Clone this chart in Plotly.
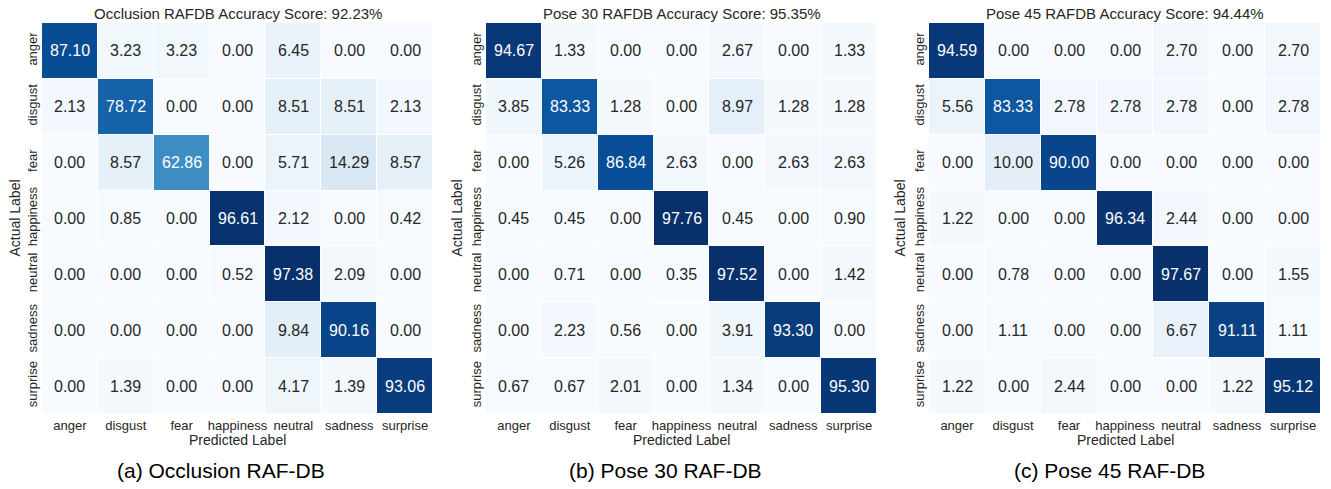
import numpy as np
import plotly.graph_objects as go

labels = ["anger", "disgust", "fear", "happiness", "neutral", "sadness", "surprise"]

occlusion = [
    [87.10, 3.23, 3.23, 0.00, 6.45, 0.00, 0.00],
    [2.13, 78.72, 0.00, 0.00, 8.51, 8.51, 2.13],
    [0.00, 8.57, 62.86, 0.00, 5.71, 14.29, 8.57],
    [0.00, 0.85, 0.00, 96.61, 2.12, 0.00, 0.42],
    [0.00, 0.00, 0.00, 0.52, 97.38, 2.09, 0.00],
    [0.00, 0.00, 0.00, 0.00, 9.84, 90.16, 0.00],
    [0.00, 1.39, 0.00, 0.00, 4.17, 1.39, 93.06],
]
pose30 = [
    [94.67, 1.33, 0.00, 0.00, 2.67, 0.00, 1.33],
    [3.85, 83.33, 1.28, 0.00, 8.97, 1.28, 1.28],
    [0.00, 5.26, 86.84, 2.63, 0.00, 2.63, 2.63],
    [0.45, 0.45, 0.00, 97.76, 0.45, 0.00, 0.90],
    [0.00, 0.71, 0.00, 0.35, 97.52, 0.00, 1.42],
    [0.00, 2.23, 0.56, 0.00, 3.91, 93.30, 0.00],
    [0.67, 0.67, 2.01, 0.00, 1.34, 0.00, 95.30],
]
pose45 = [
    [94.59, 0.00, 0.00, 0.00, 2.70, 0.00, 2.70],
    [5.56, 83.33, 2.78, 2.78, 2.78, 0.00, 2.78],
    [0.00, 10.00, 90.00, 0.00, 0.00, 0.00, 0.00],
    [1.22, 0.00, 0.00, 96.34, 2.44, 0.00, 0.00],
    [0.00, 0.78, 0.00, 0.00, 97.67, 0.00, 1.55],
    [0.00, 1.11, 0.00, 0.00, 6.67, 91.11, 1.11],
    [1.22, 0.00, 2.44, 0.00, 0.00, 1.22, 95.12],
]

titles = [
    "Occlusion RAFDB Accuracy Score: 92.23%",
    "Pose 30 RAFDB Accuracy Score: 95.35%",
    "Pose 45 RAFDB Accuracy Score: 94.44%",
]
captions = ["(a) Occlusion RAF-DB", "(b) Pose 30 RAF-DB", "(c) Pose 45 RAF-DB"]
matrices = [occlusion, pose30, pose45]

# matplotlib "Blues" stops
blues_hex = ["#f7fbff", "#deebf7", "#c6dbef", "#9ecae1", "#6baed6",
             "#4292c6", "#2171b5", "#08519c", "#08306b"]
blues_rgb = np.array([[int(h[i:i + 2], 16) for i in (1, 3, 5)] for h in blues_hex], float)
stops = np.linspace(0, 1, len(blues_hex))
colorscale = [[float(s), h] for s, h in zip(stops, blues_hex)]


def cmap(t):
    return np.array([np.interp(t, stops, blues_rgb[:, k]) for k in range(3)]) / 255.0


def rel_lum(rgb):
    c = np.where(rgb <= 0.03928, rgb / 12.92, ((rgb + 0.055) / 1.055) ** 2.4)
    return 0.2126 * c[0] + 0.7152 * c[1] + 0.0722 * c[2]


W, H = 1331, 489
x_px = [(42, 433), (486, 877), (929, 1321)]
y_top, y_bot = 23, 414
ylab_x = [15, 457, 900]
cap_x = [221, 665, 1109]
font = "Liberation Sans, Arial, sans-serif"
dark = "#262626"


def txt(x, y, text, size, color=dark, angle=0):
    return dict(x=x / W, y=1 - y / H, xref="paper", yref="paper", text=text,
                xanchor="center", yanchor="middle", textangle=angle, showarrow=False,
                font=dict(size=size, color=color, family=font))


fig = go.Figure()
annotations = []
for i, (mat, (x0, x1)) in enumerate(zip(matrices, x_px)):
    z = np.array(mat)
    zmin, zmax = z.min(), z.max()
    xa = "x" if i == 0 else f"x{i + 1}"
    ya = "y" if i == 0 else f"y{i + 1}"
    fig.add_trace(go.Heatmap(
        z=z, x=labels, y=labels, colorscale=colorscale, zmin=zmin, zmax=zmax,
        showscale=False, xgap=1, ygap=1, xaxis=xa, yaxis=ya, hoverinfo="z",
    ))
    for r in range(7):
        for c in range(7):
            v = z[r, c]
            lum = rel_lum(cmap((v - zmin) / (zmax - zmin)))
            col = dark if lum > 0.408 else "white"
            annotations.append(dict(
                x=labels[c], y=labels[r], xref=xa, yref=ya, text=f"{v:.2f}",
                xanchor="center", yanchor="middle",
                showarrow=False, font=dict(size=16, color=col, family=font)))
    layout_x = "xaxis" if i == 0 else f"xaxis{i + 1}"
    layout_y = "yaxis" if i == 0 else f"yaxis{i + 1}"
    fig.update_layout({
        layout_x: dict(domain=[x0 / W, x1 / W], anchor=ya, showgrid=False, zeroline=False,
                       ticks="", tickfont=dict(size=13, color=dark, family=font),
                       showline=False, fixedrange=True, automargin=False, ticklabelstandoff=2),
        layout_y: dict(domain=[1 - y_bot / H, 1 - y_top / H], anchor=xa, showgrid=False,
                       zeroline=False, autorange="reversed", ticks="", tickangle=-90,
                       tickfont=dict(size=13, color=dark, family=font), showline=False,
                       automargin=False, fixedrange=True, ticklabelstandoff=1),
    })
    xc = (x0 + x1) / 2
    annotations.append(txt(xc, 14, titles[i], 15))
    annotations.append(txt(xc, 440, "Predicted Label", 14))
    annotations.append(txt(ylab_x[i], (y_top + y_bot) / 2, "Actual Label", 14, angle=-90))
    annotations.append(txt(cap_x[i], 470, captions[i], 21, color="black"))

fig.update_layout(width=W, height=H, margin=dict(l=0, r=0, t=0, b=0, autoexpand=False),
                  paper_bgcolor="white", plot_bgcolor="white", annotations=annotations,
                  font=dict(family=font))
fig.write_html("out.html", config={"displayModeBar": False},
               post_script="document.body.style.margin='0px';")
